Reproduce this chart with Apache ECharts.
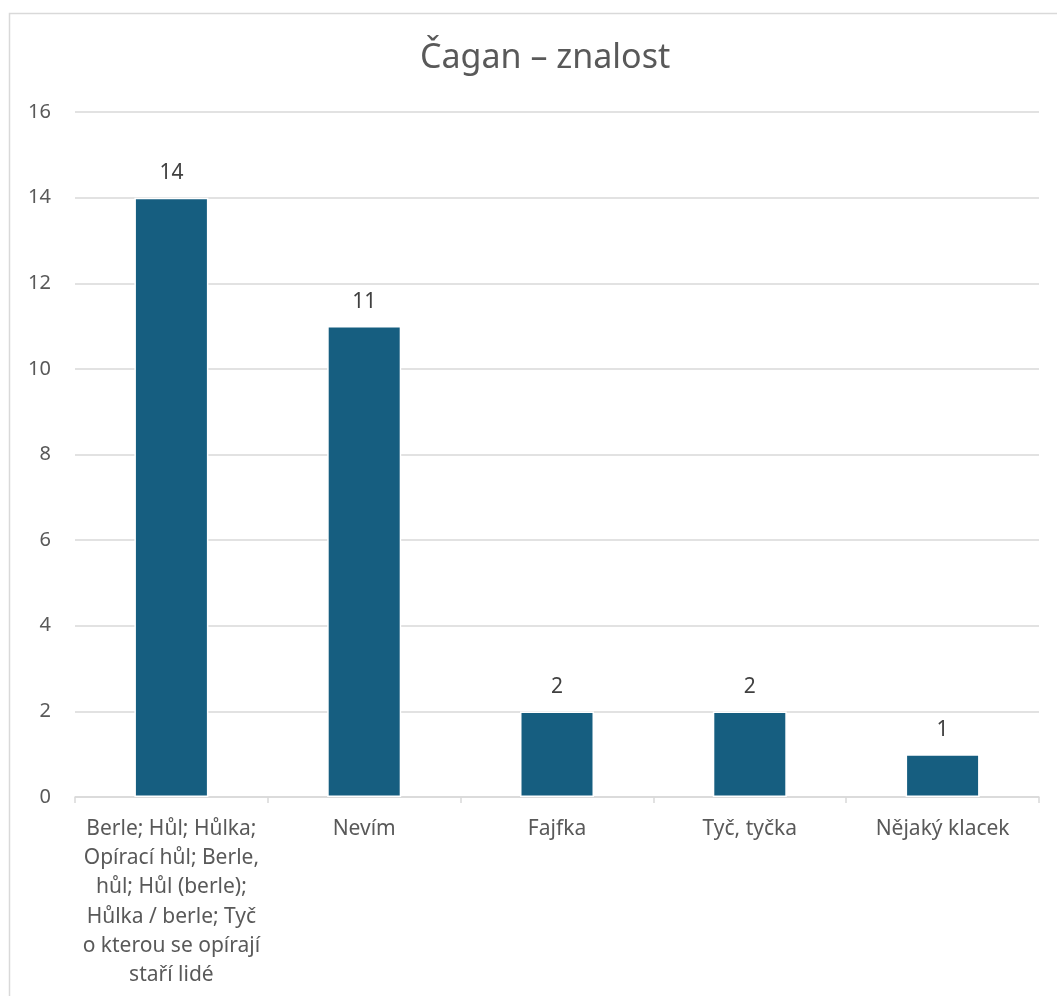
<!DOCTYPE html>
<html><head><meta charset="utf-8">
<script src="https://cdn.jsdelivr.net/npm/echarts@6/dist/echarts.min.js"></script>
<style>html,body{margin:0;padding:0;background:#fff}#c{width:1057px;height:996px}</style>
</head><body><div id="c"></div>
<script>
const categories = [
  "Berle; Hůl; Hůlka;\nOpírací hůl; Berle,\nhůl; Hůl (berle);\nHůlka / berle; Tyč\no kterou se opírají\nstaří lidé",
  "Nevím",
  "Fajfka",
  "Tyč, tyčka",
  "Nějaký klacek"
];
const values = [14, 11, 2, 2, 1];
const yTicks = [0, 2, 4, 6, 8, 10, 12, 14, 16];
const FONT = "'Noto Sans', 'Open Sans', sans-serif";
const chart = echarts.init(document.getElementById('c'), null, {renderer: 'canvas'});
chart.setOption({
  backgroundColor: '#fff',
  animation: false,
  title: {
    text: 'Čagan – znalost', left: 415, top: 36,
    textStyle: {fontFamily: FONT, fontSize: 34, fontWeight: 'normal', color: '#595959'}
  },
  graphic: [{
    type: 'rect', shape: {x: 9.5, y: 13.5, width: 1100, height: 1100},
    style: {fill: 'none', stroke: '#d9d9d9', lineWidth: 1.5}, silent: true, z: -1
  }],
  grid: {left: 75, right: 18, top: 112, bottom: 199, containLabel: false},
  xAxis: {
    type: 'category', data: categories,
    axisLine: {lineStyle: {color: '#d9d9d9', width: 1.5}},
    axisTick: {show: true, alignWithLabel: false, length: 6, lineStyle: {color: '#d9d9d9', width: 1.5}},
    axisLabel: {interval: 0, margin: 17, fontFamily: FONT, fontSize: 21, color: '#595959', lineHeight: 29.3}
  },
  yAxis: {
    type: 'value', min: 0, max: 16, interval: 2,
    axisLine: {show: false}, axisTick: {show: false},
    splitLine: {lineStyle: {color: '#d9d9d9', width: 1.5}},
    axisLabel: {margin: 24, fontFamily: FONT, fontSize: 20, color: '#595959',
      formatter: v => yTicks.includes(v) ? String(v) : ''}
  },
  series: [{
    type: 'bar', data: values, barWidth: 74,
    itemStyle: {color: '#165E80', borderColor: '#ffffff', borderWidth: 1.5},
    label: {show: true, position: 'top', distance: 14, fontFamily: FONT, fontSize: 21, color: '#404040'}
  }]
});
</script></body></html>
